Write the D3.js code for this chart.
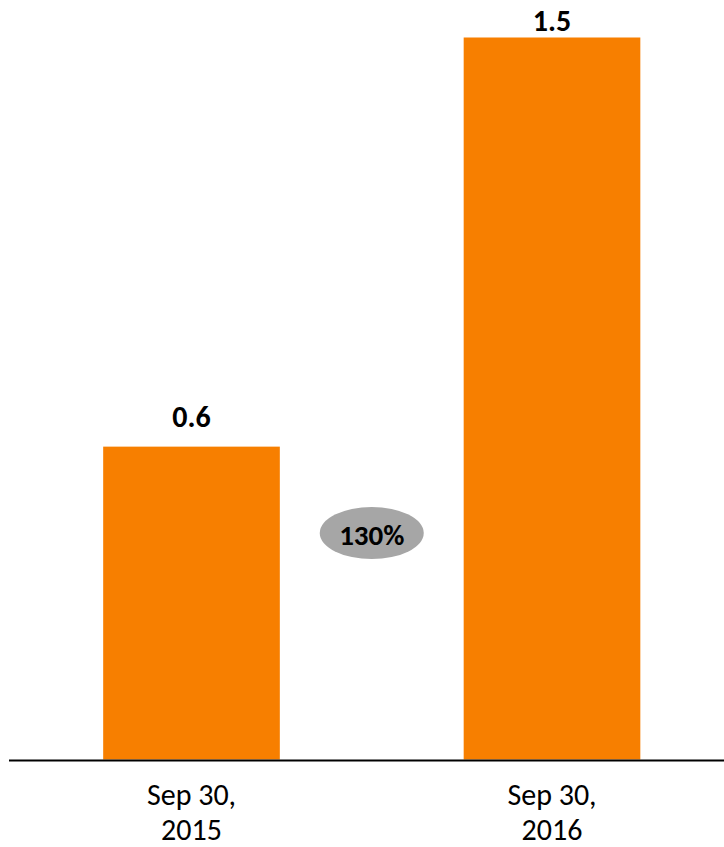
<!DOCTYPE html>
<html>
<head>
<meta charset="utf-8">
<script src="https://cdn.jsdelivr.net/npm/d3@7"></script>
<style>
  html, body { margin: 0; padding: 0; background: #fff; }
  svg { display: block; font-family: Carlito, Lato, "Open Sans", sans-serif; }
</style>
</head>
<body>
<svg id="chart" width="724" height="847"></svg>
<script>
const categories = [["Sep 30,", "2015"], ["Sep 30,", "2016"]];
const values = [0.65, 1.5];
const valueLabels = ["0.6", "1.5"];
const growthLabel = "130%";

const svg = d3.select("#chart");
const baseY = 759.5;

const x = d3.scaleBand()
  .domain(d3.range(categories.length))
  .range([11.25, 732.25])
  .paddingInner(0.51)
  .paddingOuter(0.255);

const y = d3.scaleLinear().domain([0, 1.5]).range([baseY, 37.5]);

svg.selectAll("rect.bar")
  .data(values)
  .join("rect")
  .attr("class", "bar")
  .attr("x", (d, i) => x(i))
  .attr("width", x.bandwidth())
  .attr("y", d => y(d))
  .attr("height", d => y(0) - y(d))
  .attr("fill", "#f77f00");

svg.selectAll("text.val")
  .data(values)
  .join("text")
  .attr("class", "val")
  .attr("x", (d, i) => x(i) + x.bandwidth() / 2)
  .attr("y", d => Math.max(y(d) - 20, 31))
  .attr("text-anchor", "middle")
  .attr("font-size", 30)
  .attr("font-weight", "bold")
  .attr("fill", "#000")
  .text((d, i) => valueLabels[i]);

// baseline
svg.append("line")
  .attr("x1", 9).attr("x2", 724)
  .attr("y1", baseY + 1).attr("y2", baseY + 1)
  .attr("stroke", "#000").attr("stroke-width", 2);

// category labels
const lab = svg.selectAll("text.cat")
  .data(categories)
  .join("text")
  .attr("class", "cat")
  .attr("text-anchor", "middle")
  .attr("font-size", 30)
  .attr("fill", "#000");
lab.selectAll("tspan")
  .data((d, i) => d.map(t => ({t, i})))
  .join("tspan")
  .attr("x", d => x(d.i) + x.bandwidth() / 2)
  .attr("y", (d, j) => 805 + j * 35)
  .text(d => d.t);

// growth bubble
const gx = (x(0) + x.bandwidth() + x(1)) / 2;
const gy = 533;
svg.append("ellipse")
  .attr("cx", gx).attr("cy", gy)
  .attr("rx", 52).attr("ry", 26)
  .attr("fill", "#a6a6a6");
svg.append("text")
  .attr("x", gx).attr("y", 545)
  .attr("text-anchor", "middle")
  .attr("font-size", 29)
  .attr("font-weight", "bold")
  .attr("fill", "#000")
  .text(growthLabel);
</script>
</body>
</html>
